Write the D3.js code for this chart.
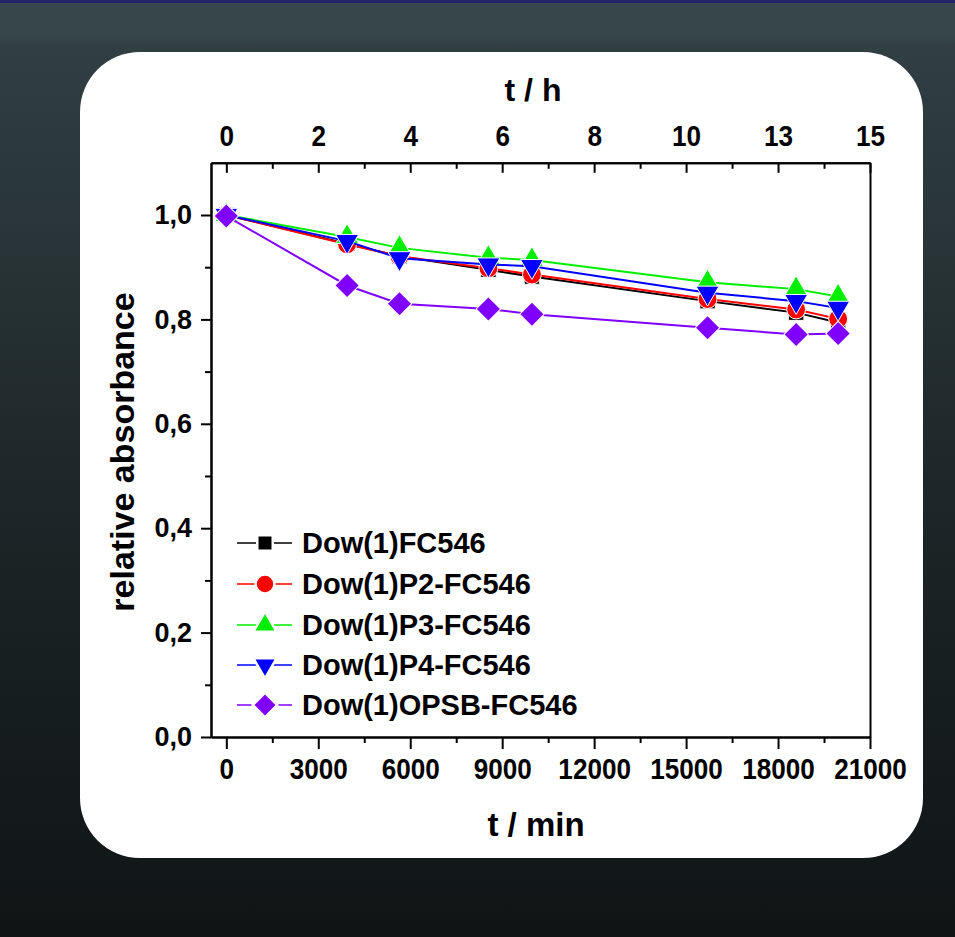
<html>
<head>
<meta charset="utf-8">
<script src="https://d3js.org/d3.v7.min.js"></script>
<style>
body { margin: 0; background: #111516; }
svg text { font-family: "Liberation Sans", Arial, sans-serif; font-weight: bold; fill: #000; }
</style>
</head>
<body>
<script>
// data (t in minutes, relative absorbance)
var tMin = [0, 3940, 5650, 8550, 9970, 15700, 18590, 19960];
var dowFC = [1.0, 0.945, 0.921, 0.895, 0.882, 0.835, 0.813, 0.794];
var dowP2 = [1.0, 0.944, 0.921, 0.898, 0.886, 0.839, 0.819, 0.801];
var dowP3 = [1.0, 0.958, 0.937, 0.918, 0.914, 0.871, 0.858, 0.844];
var dowP4 = [1.0, 0.950, 0.917, 0.905, 0.902, 0.851, 0.835, 0.822];
var dowOPSB = [0.998, 0.865, 0.830, 0.820, 0.810, 0.784, 0.771, 0.773];

var seriesNames = ["Dow(1)FC546", "Dow(1)P2-FC546", "Dow(1)P3-FC546", "Dow(1)P4-FC546", "Dow(1)OPSB-FC546"];
var minTicks = [0, 3000, 6000, 9000, 12000, 15000, 18000, 21000];
var minMinor = [1500, 4500, 7500, 10500, 13500, 16500, 19500];
var hourLabels = ["0", "2", "4", "6", "8", "10", "13", "15"];
var yTicks = [0, 0.2, 0.4, 0.6, 0.8, 1.0];
var yMinor = [0.1, 0.3, 0.5, 0.7, 0.9];

var w = 955, h = 937;
var svg = d3.select("body").append("svg").attr("width", w).attr("height", h);

// background
var defs = svg.append("defs");
var grad = defs.append("linearGradient").attr("id", "bg").attr("x1", 0).attr("y1", 0).attr("x2", 0).attr("y2", 1);
grad.append("stop").attr("offset", "0%").attr("stop-color", "#37474b");
grad.append("stop").attr("offset", "4%").attr("stop-color", "#354548");
grad.append("stop").attr("offset", "5%").attr("stop-color", "#313f42");
grad.append("stop").attr("offset", "55%").attr("stop-color", "#1c2527");
grad.append("stop").attr("offset", "100%").attr("stop-color", "#101415");
svg.append("rect").attr("width", w).attr("height", h).attr("fill", "url(#bg)");
svg.append("rect").attr("width", w).attr("height", 3).attr("fill", "#23226a");

// white card
svg.append("rect").attr("x", 80).attr("y", 52).attr("width", 843).attr("height", 806)
  .attr("rx", 60).attr("ry", 60).attr("fill", "#fff");

var xScale = d3.scaleLinear().domain([-500, 21000]).range([211, 870]);
var yScale = d3.scaleLinear().domain([0, 1.1]).range([737, 162.8]);

var commaFmt = function(d){ return d3.format(".1f")(d).replace(".", ","); };

function styleAxis(g, fs, sx) {
  g.select(".domain").attr("stroke-width", 2);
  g.selectAll(".tick line").attr("stroke-width", 2);
  g.selectAll(".tick text").attr("font-size", fs)
    .style("font-family", "'Liberation Sans', Arial, sans-serif").style("font-weight", "bold")
    .attr("transform", "scale(" + sx + ",1)");
}

// bottom axis
var xb = svg.append("g").attr("transform", "translate(0,737)")
  .call(d3.axisBottom(xScale).tickValues(minTicks).tickSize(12).tickSizeOuter(0).tickPadding(9).tickFormat(d3.format("d")));
styleAxis(xb, 30, 0.87);
var xbm = svg.append("g").attr("transform", "translate(0,737)")
  .call(d3.axisBottom(xScale).tickValues(minMinor).tickSize(6).tickSizeOuter(0).tickFormat(""));
styleAxis(xbm, 30, 1);

// top axis (ticks inward)
var xt = svg.append("g").attr("transform", "translate(0,162.8)")
  .call(d3.axisTop(xScale).tickValues(minTicks).tickSize(-10).tickSizeOuter(0).tickPadding(17)
    .tickFormat(function(d, i){ return hourLabels[i]; }));
styleAxis(xt, 30, 0.87);
var xtm = svg.append("g").attr("transform", "translate(0,162.8)")
  .call(d3.axisTop(xScale).tickValues(minMinor).tickSize(-6).tickSizeOuter(0).tickFormat(""));
styleAxis(xtm, 30, 1);

// left axis
var yl = svg.append("g").attr("transform", "translate(211,0)")
  .call(d3.axisLeft(yScale).tickValues(yTicks).tickSize(10).tickSizeOuter(0).tickPadding(9).tickFormat(commaFmt));
styleAxis(yl, 27, 1);
var ylm = svg.append("g").attr("transform", "translate(211,0)")
  .call(d3.axisLeft(yScale).tickValues(yMinor).tickSize(6).tickSizeOuter(0).tickFormat(""));
styleAxis(ylm, 27, 1);

// right frame
var yr = svg.append("g").attr("transform", "translate(870,0)")
  .call(d3.axisRight(yScale).tickValues([]).tickSizeOuter(0));
styleAxis(yr, 27, 1);

// axis titles
svg.append("text").attr("x", 533).attr("y", 101).attr("text-anchor", "middle").attr("font-size", 32).text("t / h");
svg.append("text").attr("x", 536).attr("y", 836).attr("text-anchor", "middle").attr("font-size", 33).text("t / min");
svg.append("text").attr("transform", "translate(134,452) rotate(-90)").attr("text-anchor", "middle")
  .attr("font-size", 34).text("relative absorbance");

// series
var colors = ["#000000", "#ff0000", "#00ee00", "#0000ff", "#8000ff"];
var values = [dowFC, dowP2, dowP3, dowP4, dowOPSB];
var symbols = [
  { type: d3.symbolSquare, size: 240, rot: 0 },
  { type: d3.symbolCircle, size: 280, rot: 0 },
  { type: d3.symbolTriangle, size: 230, rot: 0 },
  { type: d3.symbolTriangle, size: 230, rot: 180 },
  { type: d3.symbolSquare, size: 300, rot: 45 }
];

var line = d3.line().x(function(d){ return xScale(d[0]); }).y(function(d){ return yScale(d[1]); });

values.forEach(function(vals, k) {
  var pts = tMin.map(function(t, i){ return [t, vals[i]]; });
  var g = svg.append("g");
  g.append("path").attr("d", line(pts)).attr("fill", "none").attr("stroke", colors[k]).attr("stroke-width", 2);
  var sym = d3.symbol().type(symbols[k].type).size(symbols[k].size);
  g.selectAll("path.pt").data(pts).enter().append("path").attr("class", "pt")
    .attr("d", sym)
    .attr("transform", function(d){ return "translate(" + xScale(d[0]) + "," + yScale(d[1]) + ") rotate(" + symbols[k].rot + ")"; })
    .attr("fill", colors[k]).attr("stroke", "#fff").attr("stroke-width", 1);
});

// legend
var legY = [543, 584, 625, 665, 705];
seriesNames.forEach(function(name, k) {
  var g = svg.append("g").attr("transform", "translate(0," + legY[k] + ")");
  g.append("line").attr("x1", 237).attr("x2", 292).attr("y1", 0).attr("y2", 0)
    .attr("stroke", colors[k]).attr("stroke-width", 1.5);
  g.append("path").attr("d", d3.symbol().type(symbols[k].type).size(symbols[k].size))
    .attr("transform", "translate(265,0) rotate(" + symbols[k].rot + ")")
    .attr("fill", colors[k]).attr("stroke", "#fff").attr("stroke-width", 2.5);
  g.append("text").attr("x", 302).attr("y", 0).attr("dy", "0.36em").attr("font-size", 29).text(name);
});
</script>
</body>
</html>
